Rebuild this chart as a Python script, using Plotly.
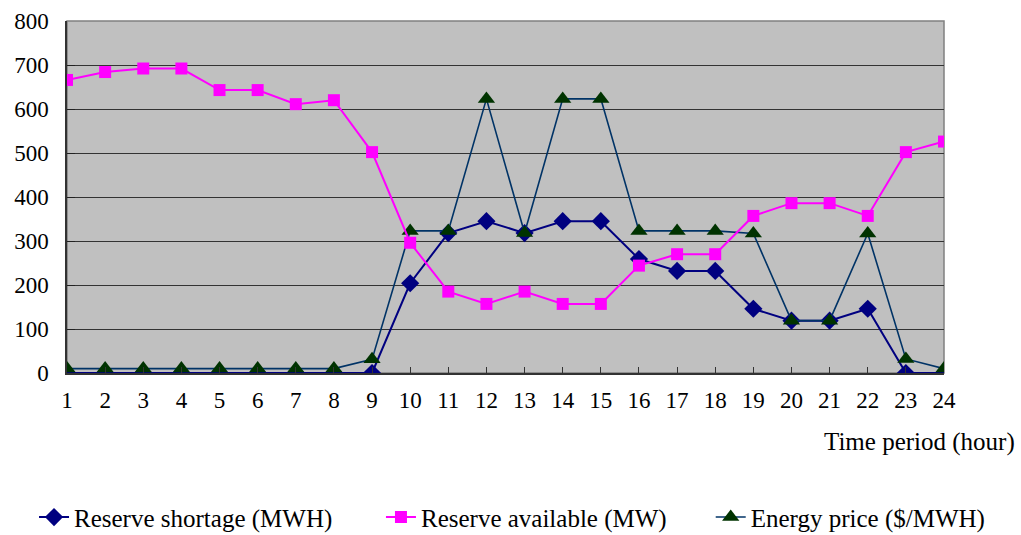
import plotly.graph_objects as go

hours = list(range(1, 25))
tick_labels = [str(h) for h in hours]

reserve_shortage = [0, 0, 0, 0, 0, 0, 0, 0, 0, 204, 318, 345, 318, 345, 345,
                    259, 232, 232, 146, 119, 119, 146, 0, 0]
reserve_available = [666, 684, 692, 692, 643, 643, 611, 620, 502, 296, 185, 157,
                     185, 157, 157, 244, 270, 270, 357, 386, 386, 357, 502, 526]
energy_price = [10, 10, 10, 10, 10, 10, 10, 10, 31, 323, 323, 623, 318, 623, 623,
                323, 323, 323, 317, 119, 119, 317, 32, 10]

FONT = "Liberation Serif"

fig = go.Figure()

fig.add_trace(go.Scatter(
    x=hours, y=reserve_shortage, name="Reserve shortage (MWH)",
    mode="lines+markers",
    line=dict(color="#000080", width=2),
    marker=dict(symbol="diamond", size=14, color="#000080"),
    legend="legend",
))
fig.add_trace(go.Scatter(
    x=hours, y=energy_price, name="Energy price ($/MWH)",
    mode="lines+markers",
    line=dict(color="#003366", width=1.6),
    marker=dict(symbol="triangle-up", size=15, color="#003300"),
    legend="legend3",
))
fig.add_trace(go.Scatter(
    x=hours, y=reserve_available, name="Reserve available (MW)",
    mode="lines+markers",
    line=dict(color="#FF00FF", width=2),
    marker=dict(symbol="square", size=12, color="#FF00FF"),
    legend="legend2",
))


def legend_box(x):
    # one legend entry per box, laid out in a single row under the axis
    return dict(
        orientation="h", x=x, xanchor="left", y=-0.41, yanchor="middle",
        font=dict(family=FONT, size=25, color="black"),
        bgcolor="rgba(0,0,0,0)", itemwidth=30,
    )


fig.update_layout(
    width=1021, height=535,
    margin=dict(l=67, r=77, t=21, b=162, autoexpand=False),
    paper_bgcolor="white",
    plot_bgcolor="#C0C0C0",
    font=dict(family=FONT, size=23, color="black"),
    showlegend=True,
    legend=legend_box(-0.0376),
    legend2=legend_box(0.358),
    legend3=legend_box(0.734),
    xaxis=dict(
        range=[1, 24], tickmode="array", tickvals=hours, ticktext=tick_labels,
        showgrid=False, zeroline=False, automargin=False,
        showline=True, linecolor="#333333", linewidth=1.5, mirror=False,
        ticks="inside", ticklen=6, tickcolor="#333333",
        tickfont=dict(family=FONT, size=23),
        ticklabelstandoff=6,
    ),
    yaxis=dict(
        range=[0, 800], tickvals=list(range(0, 801, 100)),
        showgrid=True, gridcolor="#333333", gridwidth=1.2,
        zeroline=False, automargin=False,
        showline=True, linecolor="#333333", linewidth=1.5,
        ticks="inside", ticklen=8, tickcolor="#222222",
        tickfont=dict(family=FONT, size=23),
        ticklabelstandoff=12,
    ),
    annotations=[dict(
        text="Time period (hour)", xref="paper", yref="paper",
        x=(1017 - 67) / 877, y=-0.196, xanchor="right", yanchor="middle",
        showarrow=False, font=dict(family=FONT, size=25),
    )],
    shapes=[dict(
        type="rect", xref="paper", yref="paper", x0=0, y0=0, x1=1, y1=1,
        line=dict(color="#808080", width=1.5), layer="below",
    )],
)

fig.write_html("out.html")
